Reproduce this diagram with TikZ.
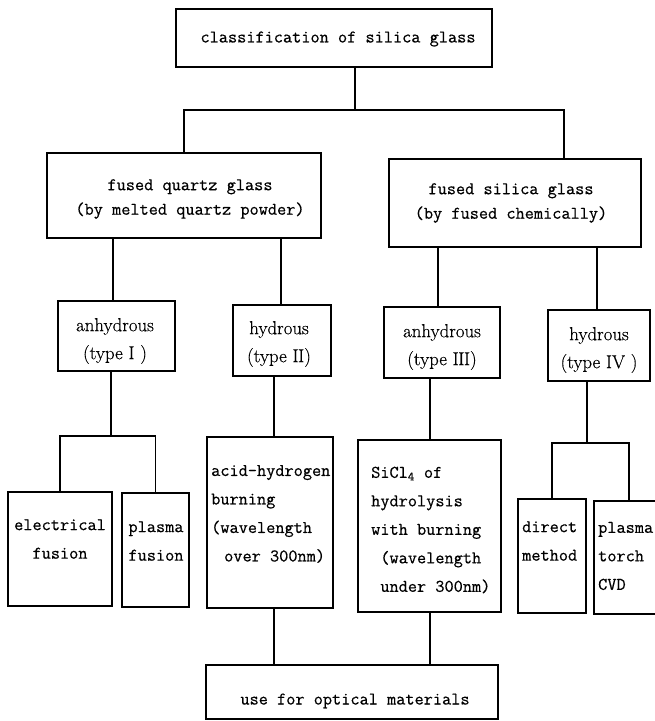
\documentclass[tikz,border=0pt]{standalone}
\usepackage{fontspec}
\newfontfamily\tw{Latin Modern Mono}[FakeBold=0.5]
\newfontfamily\tr{Latin Modern Roman}[FakeBold=0.4]
\usetikzlibrary{fit}
\begin{document}
\begin{tikzpicture}[x=1pt,y=-1pt,
  box/.style={draw, line width=1.7pt, inner sep=0pt},
  txt/.style={inner sep=0pt, font=\tw\fontsize{17.8}{28.5}\selectfont},
  txtA/.style={inner sep=0pt, font=\tw\fontsize{17.8}{24.5}\selectfont, align=center},
  txtB/.style={inner sep=0pt, font=\tr\fontsize{18.8}{28}\selectfont, align=center},
  link/.style={line width=1.7pt}]
\useasboundingbox (0,0) rectangle (655,721);
\clip (0,0) rectangle (655,721);

% boxes
\node[box, fit={(176,9)(492,67)}] (top) {};
\node[box, fit={(47,153)(321,238)}] (L2a) {};
\node[box, fit={(389,159)(641,247)}] (L2b) {};
\node[box, fit={(58,301)(175,371)}] (A1) {};
\node[box, fit={(233,305)(331,376)}] (H2) {};
\node[box, fit={(384,307)(500,378)}] (A3) {};
\node[box, fit={(548,310)(650,381)}] (H4) {};
\node[box, fit={(8,492)(112,606)}] (EF) {};
\node[box, fit={(122,493)(189,607)}] (PF) {};
\node[box, fit={(207,437)(333,608)}] (AC) {};
\node[box, fit={(358,440)(501,612)}] (SI) {};
\node[box, fit={(518,499)(586,613)}] (DM) {};
\node[box, fit={(594,501)(664,614)}] (PT) {};
\node[box, fit={(206,665)(498,719)}] (BT) {};

% texts
\node[txt] (tTop) at (338,39) {classification of silica glass};
\node[txtA] (tL2a) at (190,199) {fused quartz glass\\(by melted quartz powder)};
\node[txtA] (tL2b) at (511,203) {fused silica glass\\(by fused chemically)};
\node[txtB] (tA1) at (115,341) {anhydrous\\(type\ I\ )};
\node[txtB] (tH2) at (279,344) {hydrous\\(type\ I\kern-0.5pt I)};
\node[txtB] (tA3) at (442,347) {anhydrous\\(type\ I\kern-0.5pt I\kern-0.5pt I)};
\node[txtB] (tH4) at (599,350) {hydrous\\(type\ IV\ )};
\node[txt, align=center] (tEF) at (60,539) {electrical\\fusion};
\node[txt, align=center] (tPF) at (156,541) {plasma\\fusion};
\node[txt, align=left, anchor=west] (tAC) at (211,514) {acid-hydrogen\\burning\\(wavelength\\\hspace{13pt}over 300nm)};
\node[txt, align=left, anchor=west] (tSI) at (371,530) {SiCl\textsubscript{4} of\\hydrolysis\\with burning\\\phantom{(}(wavelength\\\phantom{(}under 300nm)};
\node[txt, align=left, anchor=west] (tDM) at (522,541) {direct\\method};
\node[txt, align=left, anchor=west] (tPT) at (598,556) {plasma\\torch\\CVD};
\node[txt] (tBT) at (355,701) {use for optical materials};

% connectors
\coordinate (j0) at (355,110);
\coordinate (ja) at (184,110);
\coordinate (jb) at (564,110);
\draw[link] (j0 |- top.south) -- (j0);
\draw[link] (ja |- L2a.north) -- (ja) -- (jb) -- (jb |- L2b.north);

\coordinate (m1) at (113,0);
\coordinate (m2) at (281,0);
\coordinate (m3) at (438,0);
\coordinate (m4) at (597,0);
\draw[link] (m1 |- L2a.south) -- (m1 |- A1.north);
\draw[link] (m2 |- L2a.south) -- (m2 |- H2.north);
\draw[link] (m3 |- L2b.south) -- (m3 |- A3.north);
\draw[link] (m4 |- L2b.south) -- (m4 |- H4.north);

\coordinate (ka) at (111,436);
\draw[link] (ka |- A1.south) -- (ka);
\draw[link] (EF.north) |- (ka) -| (PF.north);

\coordinate (kb) at (587,443);
\draw[link] (kb |- H4.south) -- (kb);
\draw[link] (DM.north) |- (kb) -| (PT.north);

\coordinate (n2) at (274,0);
\coordinate (n3) at (430,0);
\draw[link] (n2 |- H2.south) -- (n2 |- AC.north);
\draw[link] (n3 |- A3.south) -- (n3 |- SI.north);

\draw[link] (n2 |- AC.south) -- (n2 |- BT.north);
\draw[link] (n3 |- SI.south) -- (n3 |- BT.north);
\end{tikzpicture}
\end{document}
